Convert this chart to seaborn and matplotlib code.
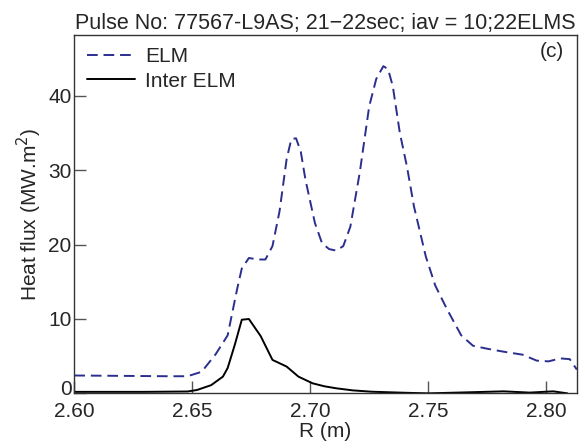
import numpy as np
import pandas as pd
import matplotlib
matplotlib.use("Agg")
import matplotlib.pyplot as plt
import matplotlib.transforms as mtransforms
import seaborn as sns

# -----------------------------
# DATA
# -----------------------------
r_elm = [2.600, 2.620, 2.640, 2.648, 2.654, 2.660, 2.665, 2.669, 2.671, 2.674,
         2.678, 2.681, 2.684, 2.687, 2.690, 2.692, 2.694, 2.696, 2.698, 2.702,
         2.705, 2.708, 2.711, 2.714, 2.717, 2.721, 2.725, 2.728, 2.731, 2.733,
         2.735, 2.738, 2.741, 2.744, 2.749, 2.753, 2.758, 2.764, 2.769, 2.775,
         2.782, 2.790, 2.796, 2.801, 2.806, 2.810, 2.813]
q_elm = [2.4, 2.35, 2.3, 2.3, 2.9, 5.3, 7.8, 14.0, 16.8, 18.2,
         18.0, 18.0, 19.8, 24.5, 31.5, 34.2, 34.3, 32.5, 28.7, 22.9,
         20.2, 19.4, 19.2, 19.8, 22.4, 29.7, 38.6, 42.3, 44.0, 43.6,
         41.3, 35.0, 30.5, 25.1, 18.4, 14.5, 11.3, 7.8, 6.4, 6.0,
         5.6, 5.2, 4.4, 4.3, 4.7, 4.6, 3.2]

r_inter = [2.600, 2.630, 2.648, 2.652, 2.658, 2.663, 2.665, 2.668, 2.671, 2.674,
           2.679, 2.684, 2.690, 2.695, 2.701, 2.706, 2.711, 2.718, 2.726, 2.740,
           2.750, 2.766, 2.782, 2.793, 2.803, 2.809]
q_inter = [0.2, 0.2, 0.25, 0.45, 1.1, 2.25, 3.4, 6.5, 9.9, 10.0,
           7.7, 4.5, 3.6, 2.25, 1.35, 0.95, 0.68, 0.4, 0.22, 0.08,
           0.0, 0.13, 0.27, 0.1, 0.27, 0.0]

x_ticks = [2.60, 2.65, 2.70, 2.75, 2.80]
y_ticks = [0, 10, 20, 30, 40]

df = pd.concat([
    pd.DataFrame({"R": r_elm, "q": q_elm, "kind": "ELM"}),
    pd.DataFrame({"R": r_inter, "q": q_inter, "kind": "Inter ELM"}),
])

# -----------------------------
# STYLE
# -----------------------------
sns.set_style("ticks")
plt.rcParams["font.family"] = ["Liberation Sans", "DejaVu Sans"]
plt.rcParams["font.size"] = 15
plt.rcParams["xtick.direction"] = "in"
plt.rcParams["ytick.direction"] = "in"

fig = plt.figure(figsize=(5.85, 4.48), dpi=100)
ax = fig.add_axes([0.127, 0.122, 0.859, 0.800])

sns.lineplot(data=df, x="R", y="q", hue="kind", style="kind",
             palette={"ELM": "#2b2e8e", "Inter ELM": "black"},
             dashes={"ELM": (5.5, 3), "Inter ELM": ""},
             estimator=None, sort=False, linewidth=1.4, ax=ax)

ax.set_xlim(2.60, 2.813)
ax.set_ylim(0, 48.2)
ax.set_xticks(x_ticks)
ax.set_xticklabels([f"{t:.2f}" for t in x_ticks], fontsize=15)
ax.set_yticks(y_ticks)
ax.set_yticklabels([str(t) for t in y_ticks], fontsize=15)
ax.tick_params(axis="x", length=8.5, width=1, color="#555555", pad=6)
ax.tick_params(axis="y", length=8.5, width=1, color="#555555", pad=2)
# lift the "0" label a few pixels so it clears the x labels
zero_lbl = ax.get_yticklabels()[0]
zero_lbl.set_transform(zero_lbl.get_transform() +
                       mtransforms.ScaledTranslation(0, 4 / 72, fig.dpi_scale_trans))

for sp in ax.spines.values():
    sp.set_color("#333333")
    sp.set_linewidth(1)

ax.set_xlabel("R (m)", fontsize=15, labelpad=1)
ax.set_ylabel("Heat flux (MW.m$^2$)", fontsize=15, labelpad=3)
ax.set_title("Pulse No: 77567-L9AS; 21\u221222sec; iav = 10;22ELMS",
             fontsize=15.5, pad=4)
ax.text(0.975, 0.98, "(c)", transform=ax.transAxes, ha="right", va="top",
        fontsize=15)

leg = ax.legend(loc="upper left", frameon=False, handlelength=2.3,
                borderaxespad=0.2, labelspacing=0.25, handletextpad=0.5,
                fontsize=15)

fig.savefig("out.png", dpi=100)
